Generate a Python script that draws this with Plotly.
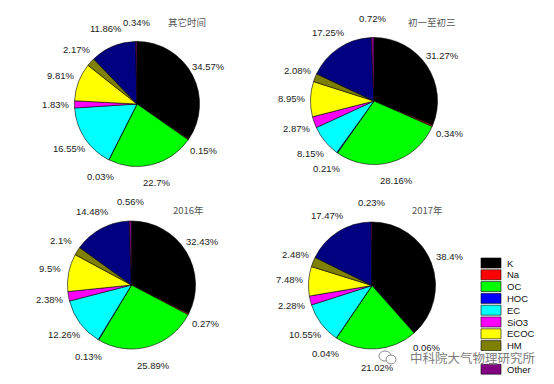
import math
import plotly.graph_objects as go

W, H = 554, 384

categories = ["K", "Na", "OC", "HOC", "EC", "SiO3", "ECOC", "HM", "PAH", "Other"]
colors = ["#000000", "#FF0000", "#00FF00", "#0000FF", "#00FFFF", "#FF00FF",
          "#FFFF00", "#808000", "#000080", "#800080"]
hidden_entry = "PAH"   # this legend entry is covered by the watermark in the original
titles = ["其它时间", "初一至初三", "2016年", "2017年"]

v_other = [34.57, 0.15, 22.7, 0.03, 16.55, 1.83, 9.81, 2.17, 11.86, 0.34]
v_cny = [31.27, 0.34, 28.16, 0.21, 8.15, 2.87, 8.95, 2.08, 17.25, 0.72]
v_2016 = [32.43, 0.27, 25.89, 0.13, 12.26, 2.38, 9.5, 2.1, 14.48, 0.56]
v_2017 = [38.4, 0.06, 21.02, 0.04, 10.55, 2.28, 7.48, 2.48, 17.47, 0.23]
series = [v_other, v_cny, v_2016, v_2017]

# layout (pixel) of each pie: centre x, centre y, radius
pies = [(137, 104, 62.5), (374, 101, 63.5), (131.5, 285, 64), (372, 285.5, 63.5)]
title_pos = [(187, 22), (432, 22), (188, 210), (427, 210)]

fig = go.Figure()
annotations = []
shapes = []

for vals, (cx, cy, r), title, (tx, ty) in zip(series, pies, titles, title_pos):
    fig.add_trace(go.Pie(
        values=vals, labels=categories, sort=False, direction="clockwise", rotation=0,
        marker=dict(colors=colors, line=dict(color="black", width=0.6)),
        textinfo="none", textposition="none", showlegend=False,
        domain=dict(x=[(cx - r) / W, (cx + r) / W], y=[1 - (cy + r) / H, 1 - (cy - r) / H]),
    ))
    total = sum(vals)
    cum = 0.0
    for v in vals:
        m = (cum + v / 2) / total
        cum += v
        th = 2 * math.pi * m
        lx = cx + 1.3 * r * math.sin(th)
        ly = cy - 1.3 * r * math.cos(th)
        annotations.append(dict(
            x=lx / W, y=1 - ly / H, xref="paper", yref="paper", text=f"{v:g}%",
            showarrow=False, xanchor="center", yanchor="middle",
            font=dict(family="Liberation Sans, Arial", size=9.5, color="#222222")))
    annotations.append(dict(
        x=tx / W, y=1 - ty / H, xref="paper", yref="paper", text=title, showarrow=False,
        xanchor="center", yanchor="middle",
        font=dict(family="Noto Sans CJK SC", size=9.5, color="#555555")))

# manual legend
lx0, lx1, ly0, step, bh = 481, 501, 258, 11.8, 10
for i, (c, name) in enumerate(zip(colors, categories)):
    y0 = ly0 + i * step
    shapes.append(dict(type="rect", xref="paper", yref="paper",
                       x0=lx0 / W, x1=lx1 / W, y0=1 - (y0 + bh) / H, y1=1 - y0 / H,
                       fillcolor=c, line=dict(color="black", width=0.6)))
    if name == hidden_entry:
        continue
    annotations.append(dict(
        x=505 / W, y=1 - (y0 + bh / 2) / H, xref="paper", yref="paper", text=name,
        showarrow=False, xanchor="left", yanchor="middle",
        font=dict(family="Liberation Sans, Arial", size=9.5, color="#111111")))

# watermark (hides the 9th legend entry, as in the original image)
shapes.append(dict(type="rect", xref="paper", yref="paper", layer="above",
                   x0=479 / W, x1=545 / W, y0=1 - 363.5 / H, y1=1 - 351 / H,
                   fillcolor="white", line=dict(width=0)))
annotations.append(dict(
    x=472 / W, y=1 - 357 / H, xref="paper", yref="paper", text="中科院大气物理研究所",
    showarrow=False, xanchor="center", yanchor="middle",
    font=dict(family="Noto Sans CJK SC", size=12.5, color="#7a7a7a",
              shadow="0px 0px 2px white")))
shapes.append(dict(type="circle", xref="paper", yref="paper",
                   x0=379 / W, x1=391 / W, y0=1 - 361 / H, y1=1 - 351 / H,
                   line=dict(color="#8a8a8a", width=1)))
shapes.append(dict(type="circle", xref="paper", yref="paper",
                   x0=386 / W, x1=396 / W, y0=1 - 364 / H, y1=1 - 355 / H,
                   fillcolor="white", line=dict(color="#8a8a8a", width=1)))

fig.update_layout(width=W, height=H, margin=dict(l=0, r=0, t=0, b=0),
                  paper_bgcolor="white", plot_bgcolor="white", showlegend=False,
                  annotations=annotations, shapes=shapes)
fig.write_html("out.html")
